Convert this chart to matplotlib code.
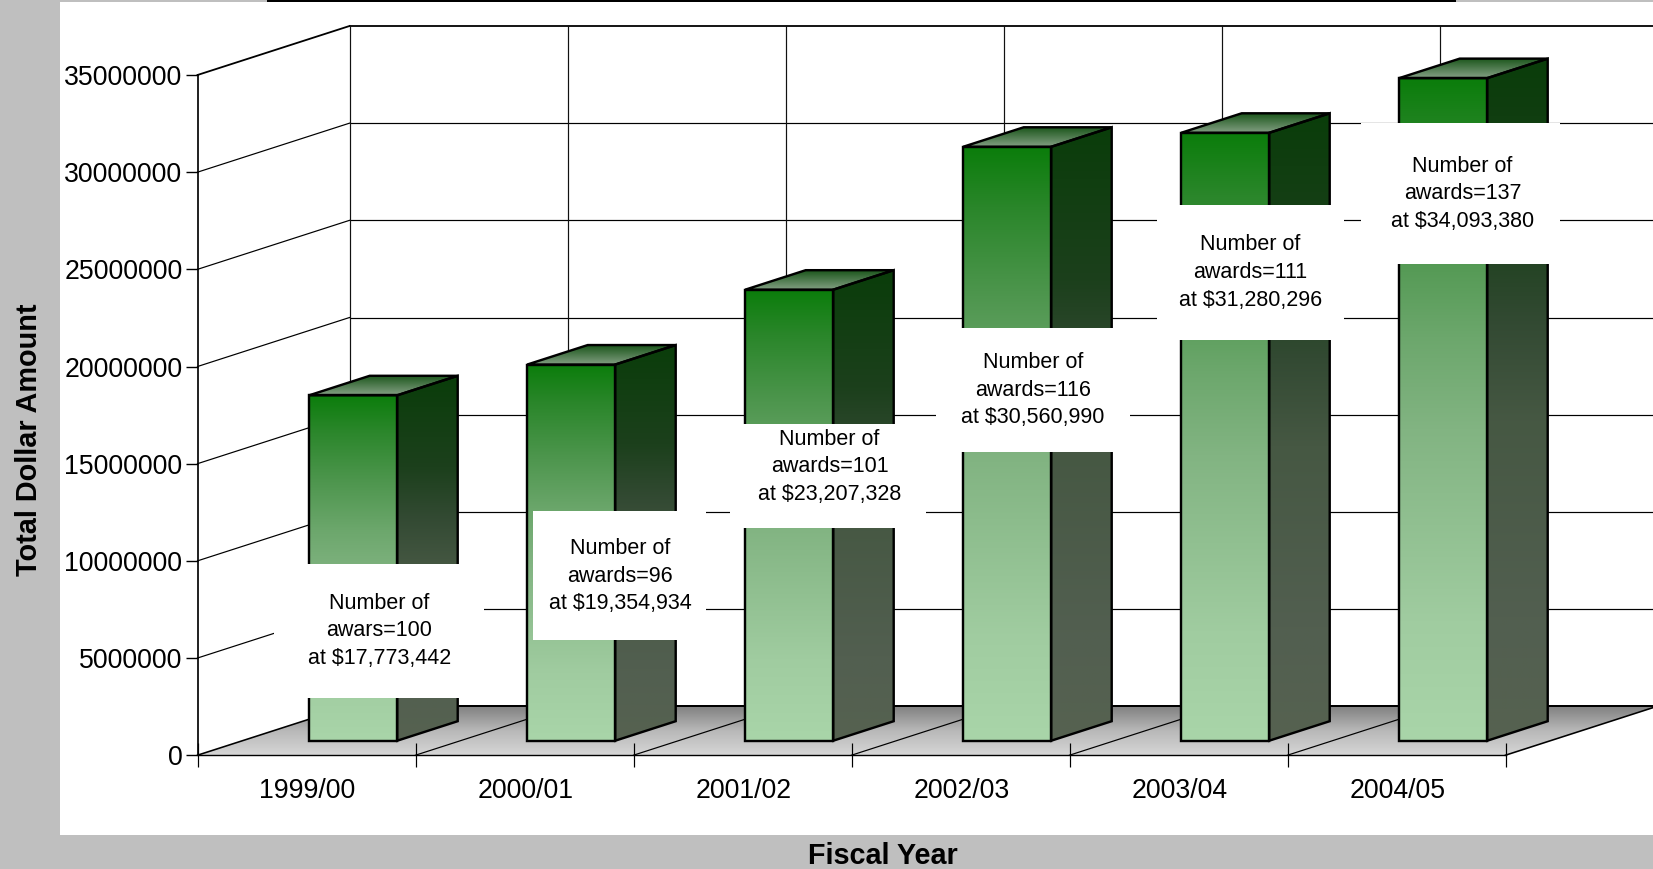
import numpy as np
import matplotlib
matplotlib.use("Agg")
import matplotlib.pyplot as plt
from matplotlib.colors import LinearSegmentedColormap
from matplotlib.patches import Polygon, Rectangle

plt.rcParams['font.family'] = ['Liberation Sans', 'DejaVu Sans']

# -------------------------
# Data
# -------------------------
years = ['1999/00', '2000/01', '2001/02', '2002/03', '2003/04', '2004/05']
amounts = [17773442, 19354934, 23207328, 30560990, 31280296, 34093380]
awards = [100, 96, 101, 116, 111, 137]
award_words = ['awars', 'awards', 'awards', 'awards', 'awards', 'awards']
y_ticks = [0, 5000000, 10000000, 15000000, 20000000, 25000000, 30000000, 35000000]

# -------------------------
# Layout, in pixels of the 1653x869 picture
# -------------------------
W, H = 1653, 869
AX_L, AX_R, AX_B, AX_T = 197.5, 1505.5, 755.2, 75.0
box_left = [274, 533, 730, 936, 1157, 1361]
box_right = [484, 706, 926, 1130, 1344, 1560]
box_top = [564, 511, 424, 328, 205, 123]
box_bottom = [698, 640, 528, 452, 340, 264]
text_x = [379.5, 620, 829.5, 1033, 1250.5, 1462.5]
text_y = [631, 576, 467, 390, 272.5, 193.7]

GREY = '#bfbfbf'
px = 0.72  # one pixel in points at dpi 100

front_cmap = LinearSegmentedColormap.from_list('front', [
    (0, '#0b7d0b'), (.1, '#2a862a'), (.25, '#4e964e'), (.39, '#6ca76c'),
    (.53, '#82b482'), (.82, '#a0cca0'), (1, '#a9d5a9')])
side_cmap = LinearSegmentedColormap.from_list('side', [
    (0, '#0a3d0a'), (.25, '#1c401c'), (.39, '#334a33'),
    (.53, '#465843'), (.82, '#525f50'), (1, '#566250')])
top_cmap = LinearSegmentedColormap.from_list('top', ['#1a551a', '#84a084'])
floor_cmap = LinearSegmentedColormap.from_list('floor', ['#808080', '#b8b8b8', '#d6d6d6'])

fig = plt.figure(figsize=(W / 100, H / 100), dpi=100, facecolor=GREY)
fig.patches.append(Rectangle((60 / W, (H - 835) / H), 1, (835 - 2) / H, transform=fig.transFigure,
                             facecolor='white', edgecolor='none', zorder=-2))
fig.patches.append(Rectangle((267 / W, (H - 1.5) / H), (1456 - 267) / W, 1.5 / H,
                             transform=fig.transFigure, facecolor='black', edgecolor='none', zorder=-1))

ax = fig.add_axes([AX_L / W, (H - AX_B) / H, (AX_R - AX_L) / W, (AX_B - AX_T) / H])
ax.patch.set_visible(False)

# depth of the fake 3d box, in data units
DX = 152 / 218
DY = 49 / (AX_B - AX_T) * 35000000
BAR_W = 88 / 218
BAR_SHIFT = 0.008
D0 = 14.5 / 49
D1 = 34 / 49


def proj(x, y, d):
    return x + d * DX, y + d * DY


def gradient(pts, cmap, z):
    xs = [p[0] for p in pts]
    ys = [p[1] for p in pts]
    grad = (1 - np.linspace(0, 1, 256))[:, None]
    im = ax.imshow(grad, cmap=cmap, vmin=0, vmax=1, origin='lower', aspect='auto',
                   extent=(min(xs), max(xs), min(ys), max(ys)), zorder=z,
                   interpolation='bilinear')
    poly = Polygon(pts, closed=True, transform=ax.transData)
    im.set_clip_box(fig.bbox)
    im.set_clip_path(poly)
    return im


def outline(pts, z, lw=2.4):
    ax.add_patch(Polygon(pts, closed=True, facecolor='none', edgecolor='black',
                         linewidth=lw * px, joinstyle='miter', clip_on=False, zorder=z))


n = len(years)

# floor
floor = [proj(0, 0, 0), proj(n, 0, 0), proj(n, 0, 1), proj(0, 0, 1)]
gradient(floor, floor_cmap, 1)
for a, b in [(floor[0], floor[3]), (floor[1], floor[2])]:
    ax.plot([a[0], b[0]], [a[1], b[1]], color='black', lw=1.6 * px, clip_on=False, zorder=1.6)
ax.plot([floor[3][0], floor[2][0]], [floor[3][1], floor[2][1]], color='black', lw=2 * px,
        clip_on=False, zorder=1.6)
for i in range(1, n):
    a, b = proj(i, 0, 0), proj(i, 0, 1)
    ax.plot([a[0], b[0]], [a[1], b[1]], color='black', lw=1.2 * px, clip_on=False, zorder=1.5)

# walls
for v in y_ticks[1:]:
    a, b, c = proj(0, v, 0), proj(0, v, 1), proj(n, v, 1)
    lw = 1.8 if v == y_ticks[-1] else 1.2
    ax.plot([a[0], b[0]], [a[1], b[1]], color='black', lw=lw * px, clip_on=False, zorder=1.5)
    ax.plot([b[0], c[0]], [b[1], c[1]], color='black', lw=lw * px, clip_on=False, zorder=1.5)
for i in range(n + 1):
    a, b = proj(i, 0, 1), proj(i, y_ticks[-1], 1)
    ax.plot([a[0], b[0]], [a[1], b[1]], color='#111111', lw=1.2 * px, clip_on=False, zorder=1.5)

# bars
for i, v in enumerate(amounts):
    l = i + (1 - BAR_W) / 2 + BAR_SHIFT
    r = l + BAR_W
    front = [proj(l, 0, D0), proj(r, 0, D0), proj(r, v, D0), proj(l, v, D0)]
    side = [proj(r, 0, D0), proj(r, 0, D1), proj(r, v, D1), proj(r, v, D0)]
    top = [proj(l, v, D0), proj(r, v, D0), proj(r, v, D1), proj(l, v, D1)]
    gradient(front, front_cmap, 3)
    gradient(side, side_cmap, 3)
    gradient(top, top_cmap, 3)
    for pts in (front, side, top):
        outline(pts, 3.2)

ax.set_xlim(0, n)
ax.set_ylim(0, y_ticks[-1])
ax.set_yticks(y_ticks)
ax.set_yticklabels([str(v) for v in y_ticks])
ax.set_xticks(range(n + 1))
ax.set_xticklabels([])
ax.set_xticks(np.arange(n) + 0.505, minor=True)
ax.set_xticklabels(years, minor=True)
ax.tick_params(axis='y', direction='out', length=12 * px, width=1.4 * px, pad=3 * px, labelsize=19.2)
ax.tick_params(axis='x', which='major', direction='inout', length=24 * px, width=1.2 * px)
ax.tick_params(axis='x', which='minor', length=0, pad=23 * px, labelsize=19.2)
for s in ('top', 'right'):
    ax.spines[s].set_visible(False)
ax.spines['left'].set_linewidth(1.7 * px)
ax.spines['bottom'].set_linewidth(1.4 * px)

# -------------------------
# White label boxes on top of everything
# -------------------------
ov = fig.add_axes([0, 0, 1, 1], zorder=5)
ov.set_xlim(0, W)
ov.set_ylim(H, 0)
ov.axis('off')
for i in range(n):
    ov.add_patch(Rectangle((box_left[i], box_top[i]), box_right[i] - box_left[i],
                           box_bottom[i] - box_top[i], facecolor='white', edgecolor='none'))
    label = f"Number of\n{award_words[i]}={awards[i]}\nat ${amounts[i]:,}"
    ov.text(text_x[i], text_y[i], label, ha='center', va='center', fontsize=15.5,
            linespacing=1.41, color='black')

ov.text(882.5, 856, 'Fiscal Year', ha='center', va='center', fontsize=20.7, fontweight='bold')
ov.text(29, 440, 'Total Dollar Amount', ha='center', va='center', rotation=90, fontsize=20.8,
        fontweight='bold')

fig.savefig('out.png', dpi=100, facecolor=fig.get_facecolor())
